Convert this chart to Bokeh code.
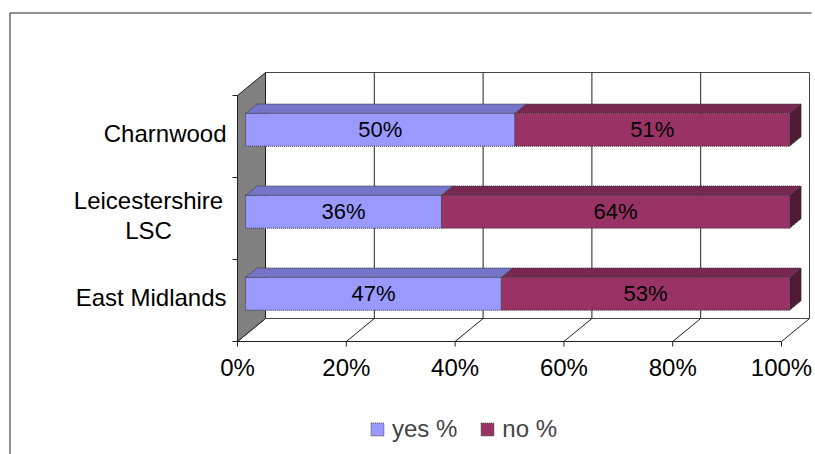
from bokeh.plotting import figure
from bokeh.models import Range1d, ColumnDataSource, Legend, LegendItem
from bokeh.core.properties import value
from bokeh.embed import file_html
from bokeh.resources import INLINE

# ---- data -------------------------------------------------------------
categories = ["East Midlands", "Leicestershire LSC", "Charnwood"]      # bottom -> top
category_labels = ["East Midlands", "Leicestershire\nLSC", "Charnwood"]
yes_pct = [47, 36, 50]
no_pct = [53, 64, 51]
series_names = ["yes %", "no %"]
x_ticks = [0, 20, 40, 60, 80, 100]
x_tick_labels = ["0%", "20%", "40%", "60%", "80%", "100%"]

# ---- layout / style ---------------------------------------------------
W, H = 815, 454
X_PX = 5.44                 # pixels per percentage point
Y_PX = 82.0                 # pixels per category band
LEFT_PX, BASE_PX = 237, 341 # canvas position of the front-left floor corner
DX = 28 / X_PX              # depth of the 3-D box, x units
DY = 23 / Y_PX              # depth of the 3-D box, y units
F_FRONT, F_BACK = 0.29, 0.70  # bar slab position inside the depth
BAR_H = 0.4
FONT = "Liberation Sans"
EDGE = "#383838"

YES_COLORS = dict(front="#9999FF", top="#7474C9", side="#4D4D99")
NO_COLORS = dict(front="#993366", top="#782850", side="#4E1A34")


def px_x(px):
    return (px - LEFT_PX) / X_PX


def px_y(py):
    return (BASE_PX - py) / Y_PX


n = len(categories)
x_max = x_ticks[-1]

p = figure(width=W, height=H,
           x_range=Range1d(px_x(0), px_x(W)), y_range=Range1d(px_y(H), px_y(0)),
           x_axis_type=None, y_axis_type=None, toolbar_location=None,
           output_backend="svg", min_border=0, outline_line_color=None,
           background_fill_color="white", border_fill_color="white")
p.grid.visible = False

# chart-area border: left and top edges
p.segment(x0=[px_x(9.5), px_x(9.5)], y0=[px_y(12.5), px_y(12.5)],
          x1=[px_x(9.5), px_x(811)], y1=[px_y(H), px_y(12.5)],
          line_color="#222222", line_width=1)

# back wall with vertical gridlines
p.quad(left=DX, right=x_max + DX, bottom=DY, top=n + DY,
       fill_color="white", line_color="#444444", line_width=1)
p.segment(x0=[t + DX for t in x_ticks[1:-1]], y0=DY,
          x1=[t + DX for t in x_ticks[1:-1]], y1=n + DY,
          line_color="#222222", line_width=1)

# floor lines running from each front tick to the back wall
p.segment(x0=x_ticks, y0=0, x1=[t + DX for t in x_ticks], y1=DY,
          line_color="#222222", line_width=1)

# left side wall
p.patch([0, DX, DX, 0], [0, DY, n + DY, n],
        fill_color="#808080", line_color="#222222", line_width=1)

# axes
p.segment(x0=0, y0=0, x1=x_max, y1=0, line_color="#222222", line_width=1)
p.segment(x0=x_ticks, y0=0, x1=x_ticks, y1=-5 / Y_PX, line_color="#222222")
p.segment(x0=-5 / X_PX, y0=list(range(n + 1)), x1=0, y1=list(range(n + 1)),
          line_color="#222222")

p.text(x=x_ticks, y=0, text=x_tick_labels, y_offset=26,
       text_align="center", text_baseline="middle",
       text_font=value(FONT), text_font_size="24px", text_color="black")

# category labels
single = [i for i, lab in enumerate(category_labels) if "\n" not in lab]
multi = [i for i, lab in enumerate(category_labels) if "\n" in lab]
p.text(x=0, y=[i + 0.5 for i in single], text=[category_labels[i] for i in single],
       x_offset=-11, y_offset=-3, text_align="right", text_baseline="middle",
       text_font=value(FONT), text_font_size="24px", text_color="black")
p.text(x=0, y=[i + 0.5 for i in multi], text=[category_labels[i] for i in multi],
       x_offset=-89, y_offset=-3, text_align="center", text_baseline="middle",
       text_font=value(FONT), text_font_size="24px", text_color="black",
       text_line_height=1.12)

# ---- 100% stacked 3-D bars ---------------------------------------------
totals = [a + b for a, b in zip(yes_pct, no_pct)]
shares = [[v / t * 100 for v, t in zip(yes_pct, totals)],
          [v / t * 100 for v, t in zip(no_pct, totals)]]
raw = [yes_pct, no_pct]
palettes = [YES_COLORS, NO_COLORS]

fx, fy = F_FRONT * DX, F_FRONT * DY
bx, by = F_BACK * DX, F_BACK * DY

legend_items = []
start = [0.0] * n
for s, (name, share, pal) in enumerate(zip(series_names, shares, palettes)):
    end = [a + b for a, b in zip(start, share)]
    yc = [i + 0.5 for i in range(n)]
    bot = [c - BAR_H / 2 for c in yc]
    top = [c + BAR_H / 2 for c in yc]

    # top faces
    p.patches(xs=[[x0 + fx, x1 + fx, x1 + bx, x0 + bx] for x0, x1 in zip(start, end)],
              ys=[[t + fy, t + fy, t + by, t + by] for t in top],
              fill_color=pal["top"], line_color=EDGE, line_dash="1 1", line_width=1)
    # right-hand end faces (only the last segment shows its end)
    if s == len(series_names) - 1:
        p.patches(xs=[[x1 + fx, x1 + bx, x1 + bx, x1 + fx] for x1 in end],
                  ys=[[b + fy, b + by, t + by, t + fy] for b, t in zip(bot, top)],
                  fill_color=pal["side"], line_color=EDGE, line_dash="1 1", line_width=1)
    # front faces
    src = ColumnDataSource(dict(
        left=[x + fx for x in start], right=[x + fx for x in end],
        bottom=[b + fy for b in bot], top=[t + fy for t in top]))
    r = p.quad(left="left", right="right", bottom="bottom", top="top", source=src,
               fill_color=pal["front"], line_color=EDGE, line_dash="1 1", line_width=1)
    legend_items.append(LegendItem(label=name, renderers=[r]))

    # value labels
    p.text(x=[(a + b) / 2 + fx for a, b in zip(start, end)], y=[c + fy for c in yc],
           text=[f"{v}%" for v in raw[s]], text_align="center", text_baseline="middle",
           text_font=value(FONT), text_font_size="22px", text_color="black")
    start = end

legend = Legend(items=legend_items, orientation="horizontal", location=(369, 11),
                padding=0, margin=0, spacing=22, label_standoff=7,
                glyph_width=16, glyph_height=16,
                label_text_font=FONT, label_text_font_size="24px",
                border_line_color=None, background_fill_alpha=0)
p.add_layout(legend)

open("out.html", "w").write(file_html(p, INLINE))
